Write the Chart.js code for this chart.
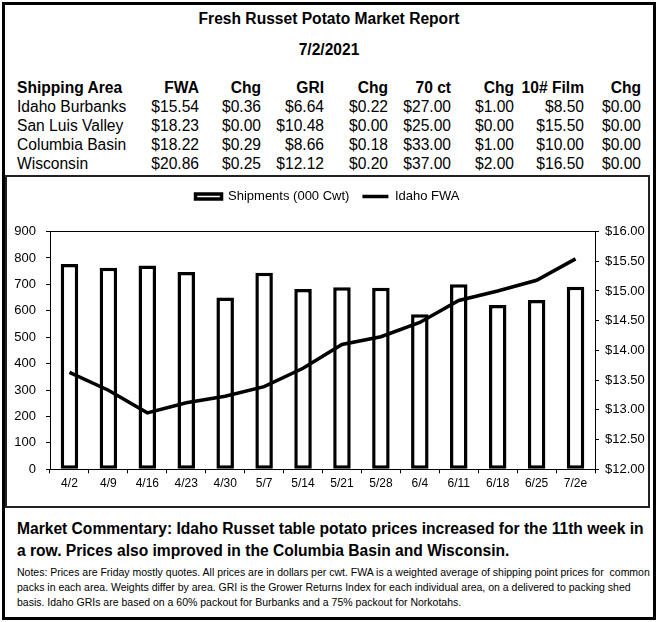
<!DOCTYPE html>
<html>
<head>
<meta charset="utf-8">
<script src="https://cdn.jsdelivr.net/npm/chart.js"></script>
<style>
  html, body { margin:0; padding:0; background:#fff; }
  body { width:658px; height:622px; overflow:hidden; position:relative; font-family:"Liberation Sans", Arial, sans-serif; color:#000; }
  #outer { position:absolute; left:2px; top:2px; width:654px; height:618px; border:3px solid #000; box-sizing:border-box; }
  #chartbox { position:absolute; left:5px; top:175px; width:645px; height:333px; border:2px solid #222; box-sizing:border-box; }
  #chartwrap { position:absolute; left:7px; top:177px; width:641px; height:329px; }
  .t { position:absolute; white-space:pre; font-size:15.6px; line-height:19px; }
  .b { font-weight:bold; }
  .title { position:absolute; left:0; width:658px; text-align:center; font-weight:bold; font-size:15.6px; line-height:19px; }
  #comment { position:absolute; left:17px; top:518px; font-weight:bold; font-size:15.6px; line-height:21.5px; white-space:pre; }
  #notes { position:absolute; left:17px; top:565px; font-size:10.5px; line-height:15px; white-space:pre; }
</style>
</head>
<body>
<div id="outer"></div>
<div id="chartbox"></div>
<div class="title" style="top:9px">Fresh Russet Potato Market Report</div>
<div class="title" style="top:40px">7/2/2021</div>
<div id="table"></div>
<div id="chartwrap"><canvas id="c"></canvas></div>
<div id="comment">Market Commentary: Idaho Russet table potato prices increased for the 11th week in
a row. Prices also improved in the Columbia Basin and Wisconsin.</div>
<div id="notes">Notes: Prices are Friday mostly quotes. All prices are in dollars per cwt. FWA is a weighted average of shipping point prices for  common
packs in each area. Weights differ by area. GRI is the Grower Returns Index for each individual area, on a delivered to packing shed
basis. Idaho GRIs are based on a 60% packout for Burbanks and a 75% packout for Norkotahs.</div>

<script>
// ---- Table data ----
const tableHeaders = ['Shipping Area','FWA','Chg','GRI','Chg','70 ct','Chg','10# Film','Chg'];
const areas     = ['Idaho Burbanks','San Luis Valley','Columbia Basin','Wisconsin'];
const fwa       = ['$15.54','$18.23','$18.22','$20.86'];
const fwaChg    = ['$0.36','$0.00','$0.29','$0.25'];
const gri       = ['$6.64','$10.48','$8.66','$12.12'];
const griChg    = ['$0.22','$0.00','$0.18','$0.20'];
const ct70      = ['$27.00','$25.00','$33.00','$37.00'];
const ct70Chg   = ['$1.00','$0.00','$1.00','$2.00'];
const film10    = ['$8.50','$15.50','$10.00','$16.50'];
const film10Chg = ['$0.00','$0.00','$0.00','$0.00'];

// ---- Chart data ----
const weeks     = ['4/2','4/9','4/16','4/23','4/30','5/7','5/14','5/21','5/28','6/4','6/11','6/18','6/25','7/2e'];
const shipments = [777, 763, 771, 747, 650, 744, 682, 689, 687, 587, 700, 622, 641, 691];
const idahoFWA  = [13.63, 13.33, 12.95, 13.12, 13.23, 13.39, 13.70, 14.10, 14.23, 14.47, 14.84, 15.00, 15.18, 15.54];
const leftTicksMax = 900, leftStep = 100;
const rightMin = 12, rightMax = 16, rightStep = 0.5;

// ---- Build table ----
(function(){
  const table = document.getElementById('table');
  const columns = [areas, fwa, fwaChg, gri, griChg, ct70, ct70Chg, film10, film10Chg];
  const rightEdges = [null, 199, 261, 324, 388, 451, 514, 584, 641];
  const rowTops = [77.5, 96.5, 115.5, 134.5, 153.5];
  function cell(text, col, row, bold){
    const d = document.createElement('div');
    d.className = 't' + (bold ? ' b' : '');
    d.textContent = text;
    d.style.top = rowTops[row] + 'px';
    if (col === 0) d.style.left = '17px';
    else d.style.right = (658 - rightEdges[col]) + 'px';
    table.appendChild(d);
  }
  tableHeaders.forEach((h, c) => cell(h, c, 0, true));
  columns.forEach((arr, c) => arr.forEach((v, r) => cell(v, c, r + 1, false)));
})();

// ---- Chart ----
const FONT = '"Liberation Sans", Arial, sans-serif';
new Chart(document.getElementById('c'), {
  type: 'bar',
  data: {
    labels: weeks,
    datasets: [
      {
        type: 'line',
        label: 'Idaho FWA',
        data: idahoFWA,
        yAxisID: 'y1',
        borderColor: '#000',
        backgroundColor: '#000',
        borderWidth: 3.5,
        pointRadius: 0,
        tension: 0,
        fill: false,
        order: 0
      },
      {
        type: 'bar',
        label: 'Shipments (000 Cwt)',
        data: shipments,
        yAxisID: 'y',
        backgroundColor: '#fff',
        borderColor: '#000',
        borderWidth: 3.5,
        borderSkipped: false,
        barPercentage: 0.45,
        categoryPercentage: 1,
        order: 1
      }
    ]
  },
  options: {
    responsive: true,
    maintainAspectRatio: false,
    animation: false,
    layout: { padding: 0 },
    plugins: {
      tooltip: { enabled: false },
      legend: {
        display: true,
        position: 'top',
        reverse: true,
        labels: {
          usePointStyle: true,
          pointStyleWidth: 26,
          boxHeight: 5,
          padding: 13,
          color: '#000',
          font: { size: 13, family: FONT },
          generateLabels(chart) {
            const items = Chart.defaults.plugins.legend.labels.generateLabels(chart);
            items.forEach(it => {
              const ds = chart.data.datasets[it.datasetIndex];
              it.pointStyle = ds.type === 'line' ? 'line' : 'rect';
              it.lineWidth = 3.5;
              it.strokeStyle = '#000';
              it.fillStyle = '#fff';
              it.fontColor = '#000';
            });
            return items;
          }
        }
      }
    },
    scales: {
      x: {
        type: 'category',
        position: 'bottom',
        offset: true,
        grid: { display: true, offset: true, drawOnChartArea: false, drawTicks: true, tickLength: 4, color: '#000', tickColor: '#000' },
        border: { display: true, color: '#000', width: 1 },
        ticks: { color: '#000', font: { size: 12, family: FONT }, padding: 3, maxRotation: 0, autoSkip: false },
        afterFit(s) { s.height = 36.7; }
      },
      x2: {
        type: 'category',
        position: 'top',
        offset: true,
        grid: { display: false, drawTicks: false },
        border: { display: true, color: '#000', width: 1 },
        ticks: { display: false },
        afterFit(s) { s.height = 18.5; }
      },
      y: {
        position: 'left',
        min: 0,
        max: leftTicksMax,
        grid: { display: true, drawOnChartArea: false, drawTicks: true, tickLength: 4, color: '#000', tickColor: '#000' },
        border: { display: true, color: '#000', width: 1 },
        ticks: { stepSize: leftStep, color: '#000', font: { size: 13, family: FONT }, padding: 10 },
        afterFit(s) { s.width = 43; }
      },
      y1: {
        position: 'right',
        min: rightMin,
        max: rightMax,
        grid: { display: true, drawOnChartArea: false, drawTicks: true, tickLength: 4, color: '#000', tickColor: '#000' },
        border: { display: true, color: '#000', width: 1 },
        ticks: { stepSize: rightStep, color: '#000', font: { size: 13, family: FONT }, padding: 6,
                 callback: v => '$' + Number(v).toFixed(2) },
        afterFit(s) { s.width = 53; }
      }
    }
  }
});
</script>
</body>
</html>
